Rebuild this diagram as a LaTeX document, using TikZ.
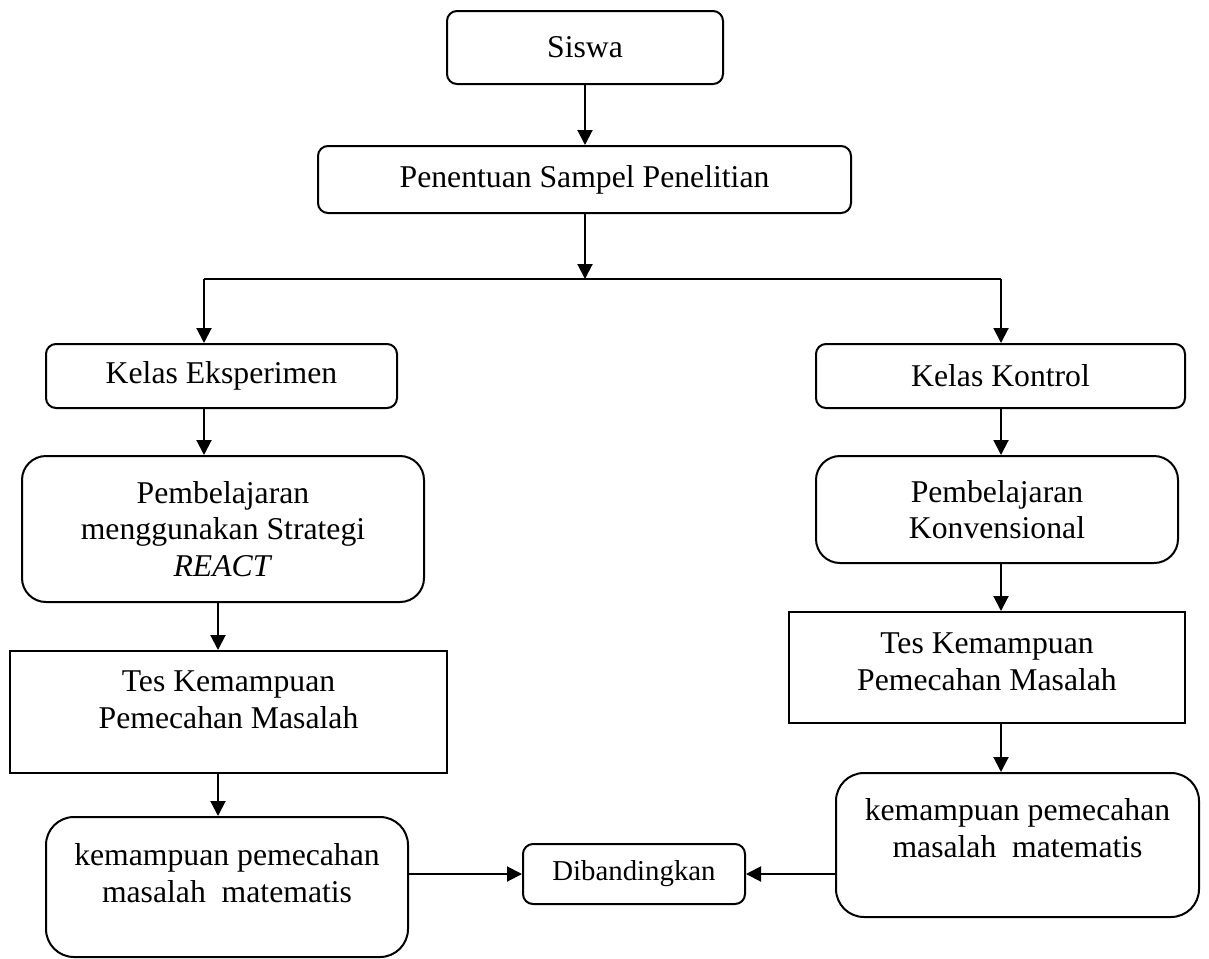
\documentclass[tikz,border=0pt]{standalone}
\usepackage{fontspec}
\setmainfont{Liberation Serif}
\usetikzlibrary{arrows.meta}
\newcommand{\topbox}[4]{\parbox[c][#2][t]{#1}{\centering\vspace*{#3}#4\par}}
\begin{document}
\begin{tikzpicture}[x=0.5pt,y=-0.5pt,
  font=\fontsize{15.85}{18.25}\selectfont,
  box/.style={draw, line width=1pt, rounded corners=5pt, align=center, inner sep=0pt},
  bigbox/.style={box, rounded corners=12pt},
  plainbox/.style={draw, line width=1pt, inner sep=0pt},
  roundtop/.style={draw, line width=1pt, inner sep=0pt, rounded corners=14pt},
  arr/.style={line width=1pt, -{Triangle[length=7.5pt,width=7.5pt]}},
  ln/.style={line width=1pt}]
\useasboundingbox (0,0) rectangle (1209,958);
% columns
\coordinate (xm) at (585,0);
\coordinate (xa) at (204,0);
\coordinate (xb) at (218,0);
\coordinate (xr) at (1001,0);
\coordinate (j) at (585,279);
% nodes
\node[box, minimum width=138pt, minimum height=36.5pt] (siswa) at (585,47.5) {Siswa};
\node[box, minimum width=266.5pt, minimum height=33.5pt] (pen) at (584.5,179.5) {Penentuan Sampel Penelitian};
\node[box, minimum width=175.5pt, minimum height=32pt] (ke) at (221.5,376) {Kelas Eksperimen};
\node[box, minimum width=184.5pt, minimum height=32pt] (kk) at (1000.5,376) {Kelas Kontrol};
\node[bigbox, minimum width=201pt, minimum height=73pt] (react) at (223,529) {Pembelajaran\\menggunakan Strategi\\\textit{REACT}};
\node[bigbox, minimum width=181pt, minimum height=53.5pt] (konv) at (997,509.5) {Pembelajaran\\Konvensional};
\node[plainbox] (tesl) at (228.5,712) {\topbox{218.5pt}{61pt}{7.6pt}{\strut Tes Kemampuan\\Pemecahan Masalah}};
\node[plainbox] (tesr) at (987,667.5) {\topbox{198pt}{55.5pt}{8pt}{\strut Tes Kemampuan\\Pemecahan Masalah}};
\node[roundtop] (keml) at (227,887) {\topbox{181pt}{70pt}{11.7pt}{\strut kemampuan pemecahan\\masalah\ \ matematis}};
\node[roundtop] (kemr) at (1017.5,845) {\topbox{181.5pt}{72pt}{11.2pt}{\strut kemampuan pemecahan\\masalah\ \ matematis}};
\node[box, minimum width=111pt, minimum height=30pt, font=\fontsize{14.4}{17}\selectfont] (dib) at (634,874) {Dibandingkan};
% connectors
\draw[arr] (siswa.south -| xm) -- (pen.north -| xm);
\draw[arr] (pen.south -| xm) -- (j);
\draw[ln] (j -| xa) -- (j -| xr);
\draw[arr] (j -| xa) -- (ke.north -| xa);
\draw[arr] (j -| xr) -- (kk.north -| xr);
\draw[arr] (ke.south -| xa) -- (react.north -| xa);
\draw[arr] (react.south -| xb) -- (tesl.north -| xb);
\draw[arr] (tesl.south -| xb) -- (keml.north -| xb);
\draw[arr] (kk.south -| xr) -- (konv.north -| xr);
\draw[arr] (konv.south -| xr) -- (tesr.north -| xr);
\draw[arr] (tesr.south -| xr) -- (kemr.north -| xr);
\draw[arr] (keml.east |- dib.west) -- (dib.west);
\draw[arr] (kemr.west |- dib.east) -- (dib.east);
\end{tikzpicture}
\end{document}
